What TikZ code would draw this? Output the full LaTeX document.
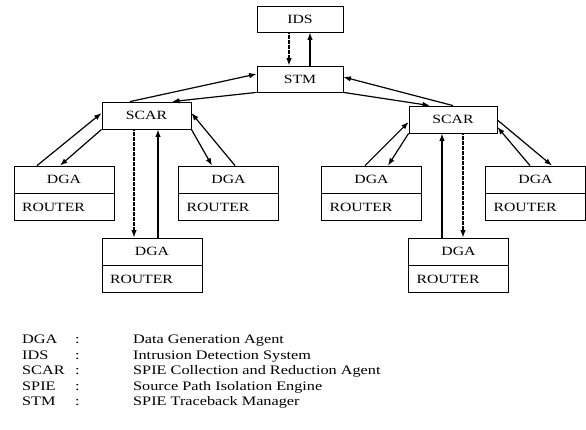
\documentclass[tikz,border=0pt]{standalone}
\usepackage{fontspec}
\setmainfont[FakeStretch=1.25]{Liberation Serif}
\usetikzlibrary{arrows.meta}
\begin{document}
\begin{tikzpicture}[x=1pt,y=-1pt,
  box/.style={draw,line width=0.8pt,inner sep=0pt,font=\fontsize{12.6}{15}\selectfont},
  upper/.style={box,minimum width=100pt,minimum height=27pt},
  lower/.style={box,minimum width=100pt,minimum height=27pt,text width=84pt,align=left,anchor=north},
  conn/.style={line width=1.2pt,-{Latex[length=7.5pt,width=5.5pt]}},
  dots/.style={conn,dash pattern=on 2pt off 0.5pt},
  leg/.style={anchor=base west,inner sep=0pt,font=\fontsize{13}{15}\selectfont}]
\useasboundingbox (0,0) rectangle (586,430);
% top
\node[box,minimum width=86pt,minimum height=26pt] (ids) at (300,19) {IDS\hspace{8pt}};
\node[box,minimum width=86pt,minimum height=26pt] (stm) at (300,79) {STM\hspace{10pt}};
\node[box,minimum width=89pt,minimum height=27pt] (scarL) at (146.5,115.5) {SCAR\hspace{12pt}};
\node[box,minimum width=88pt,minimum height=27pt] (scarR) at (453,119.5) {SCAR\hspace{12pt}};
% DGA / ROUTER boxes
\node[upper] (L1) at (64,179.5) {DGA\hspace{14pt}};
\node[lower] (L1r) at (L1.south) {ROUTER};
\node[upper] (L2) at (228.5,179.5) {DGA\hspace{14pt}};
\node[lower] (L2r) at (L2.south) {ROUTER};
\node[upper] (L3) at (152,251.5) {DGA\hspace{14pt}};
\node[lower] (L3r) at (L3.south) {ROUTER};
\node[upper] (R1) at (371.5,179.5) {DGA\hspace{14pt}};
\node[lower] (R1r) at (R1.south) {ROUTER};
\node[upper] (R2) at (535.5,179.5) {DGA\hspace{14pt}};
\node[lower] (R2r) at (R2.south) {ROUTER};
\node[upper] (R3) at (458.5,251.5) {DGA\hspace{14pt}};
\node[lower] (R3r) at (R3.south) {ROUTER};
% IDS <-> STM
\draw[dots] ([xshift=-11pt]ids.south) -- ([xshift=-11pt]stm.north);
\draw[conn] ([xshift=10pt]stm.north) -- ([xshift=10pt]ids.south);
% STM <-> SCARs
\draw[conn] ([xshift=-16.5pt]scarL.north) -- ([yshift=5pt]stm.west);
\draw[conn] (stm.south west) -- ([xshift=25.5pt]scarL.north);
\draw[conn] (scarR.north) -- ([yshift=2pt]stm.east);
\draw[conn] (stm.south east) -- ([xshift=-23pt]scarR.north);
% left group
\draw[conn] ([xshift=-27pt]L1.north) -- ([yshift=2.5pt]scarL.west);
\draw[conn] (scarL.south west) -- ([xshift=-4pt]L1.north);
\draw[conn] (scarL.south east) -- ([xshift=-16.5pt]L2.north);
\draw[conn] ([xshift=6.5pt]L2.north) -- ([yshift=2.5pt]scarL.east);
\draw[dots] ([xshift=-12.5pt]scarL.south) -- ([xshift=-18pt]L3.north);
\draw[conn] ([xshift=6pt]L3.north) -- ([xshift=11.5pt]scarL.south);
% right group
\draw[conn] ([xshift=-6.5pt]R1.north) -- ([yshift=-2.5pt]scarR.west);
\draw[conn] (scarR.south west) -- ([xshift=16.5pt]R1.north);
\draw[conn] ([yshift=-0.5pt]scarR.east) -- ([xshift=16.5pt]R2.north);
\draw[conn] ([xshift=-5.5pt]R2.north) -- ([yshift=-7.5pt]scarR.east);
\draw[conn] ([xshift=-16.5pt]R3.north) -- ([xshift=-11pt]scarR.south);
\draw[dots] ([xshift=10pt]scarR.south) -- ([xshift=4.5pt]R3.north);
% legend
\node[leg] (k1) at (22,343) {DGA};  \node[leg] (c1) at (75,343) {:}; \node[leg] (d1) at (133,343) {Data Generation Agent};
\node[leg] (k2) at (22,359) {IDS};  \node[leg] (c2) at (75,359) {:}; \node[leg] (d2) at (133,359) {Intrusion Detection System};
\node[leg] (k3) at (22,374) {SCAR}; \node[leg] (c3) at (75,374) {:}; \node[leg] (d3) at (133,374) {SPIE Collection and Reduction Agent};
\node[leg] (k4) at (22,390) {SPIE}; \node[leg] (c4) at (75,390) {:}; \node[leg] (d4) at (133,390) {Source Path Isolation Engine};
\node[leg] (k5) at (22,405) {STM};  \node[leg] (c5) at (75,405) {:}; \node[leg] (d5) at (133,405) {SPIE Traceback Manager};
\end{tikzpicture}
\end{document}
